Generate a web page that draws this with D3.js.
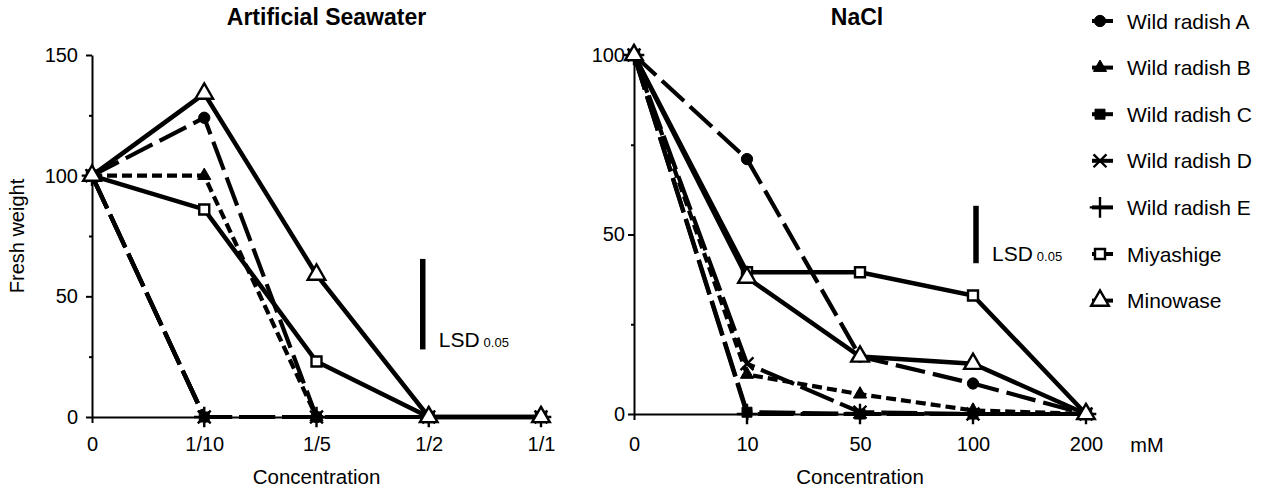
<!DOCTYPE html>
<html>
<head>
<meta charset="utf-8">
<script src="https://cdn.jsdelivr.net/npm/d3@7"></script>
<style>
  html, body { margin: 0; padding: 0; background: #fff; }
  svg { display: block; font-family: "Liberation Sans", Arial, sans-serif; }
</style>
</head>
<body>
<svg id="chart" width="1264" height="491"></svg>
<script>
// Relative fresh weight (%) of radish lines under salt stress
const seawaterLevels = ["0", "1/10", "1/5", "1/2", "1/1"];
const naclLevels = ["0", "10", "50", "100", "200"];

const seriesNames = ["Wild radish A", "Wild radish B", "Wild radish C", "Wild radish D",
                     "Wild radish E", "Miyashige", "Minowase"];

const seawaterA = [100, 124, 0, 0, 0];
const seawaterB = [100, 100, 0, 0, 0];
const seawaterC = [100, 0, 0, 0, 0];
const seawaterD = [100, 0, 0, 0, 0];
const seawaterE = [100, 0, 0, 0, 0];
const seawaterMiyashige = [100, 86, 23, 0, 0];
const seawaterMinowase = [100, 134, 59, 0, 0];

const naclA = [100, 71, 16, 8.5, 0];
const naclB = [100, 11, 5.5, 1, 0];
const naclC = [100, 0.5, 0, 0, 0];
const naclD = [100, 14, 0.5, 0, 0];
const naclE = [100, 0, 0, 0, 0];
const naclMiyashige = [100, 39.5, 39.5, 33, 0];
const naclMinowase = [100, 38, 16, 14, 0];

const seawaterTicks = [0, 50, 100, 150];
const seawaterMinor = [25, 75, 125];
const naclTicks = [0, 50, 100];
const naclMinor = [25, 75];

// LSD (P = 0.05) bars: [lower end, length]
const seawaterLSD = [28, 37.5];
const naclLSD = [42, 16];

// Line and marker styles per series
const styles = [
  { dash: "30,8",  symbol: d3.symbolCircle,   size: 100, fill: "#000", sw: 4.2 },
  { dash: "10,5",  symbol: d3.symbolTriangle, size: 75,  fill: "#000", sw: 4.2 },
  { dash: "36,7",  symbol: d3.symbolSquare,   size: 100, fill: "#000", sw: 4.2 },
  { dash: "36,7",  symbol: d3.symbolTimes,    size: 110, fill: "none", sw: 4.2 },
  { dash: "36,7",  symbol: d3.symbolPlus,     size: 140, fill: "none", sw: 4.2 },
  { dash: null,    symbol: d3.symbolSquare,   size: 100, fill: "#fff", sw: 4.5 },
  { dash: null,    symbol: d3.symbolTriangle, size: 135, fill: "#fff", sw: 4.5 }
];

const svg = d3.select("#chart");

function panel(opts) {
  const x = d3.scalePoint().domain(opts.cats).range(opts.xRange);
  const y = d3.scaleLinear().domain(opts.yDomain).range(opts.yRange);
  const g = svg.append("g");

  // y axis, major and minor ticks
  g.append("g").attr("transform", `translate(${opts.xRange[0]},0)`)
    .call(d3.axisLeft(y).tickValues(opts.ticks).tickSize(6).tickSizeOuter(0)
      .tickPadding(opts.yPad).tickFormat(d3.format("d")));
  g.append("g").attr("transform", `translate(${opts.xRange[0]},0)`)
    .call(d3.axisLeft(y).tickValues(opts.minor).tickSize(3).tickSizeOuter(0).tickFormat(""))
    .select(".domain").remove();

  // x axis
  g.append("g").attr("transform", `translate(0,${opts.yRange[0]})`)
    .call(d3.axisBottom(x).tickSize(6).tickSizeOuter(0).tickPadding(opts.xPad));

  g.selectAll(".domain, .tick line").attr("stroke", "#000").attr("stroke-width", 2);
  g.selectAll(".tick text").attr("font-size", 20).attr("fill", "#000")
    .attr("font-family", "Liberation Sans, Arial, sans-serif");

  // series lines and markers
  const line = d3.line().x((d, i) => x(opts.cats[i])).y(d => y(d));
  opts.series.forEach((vals, k) => {
    const st = styles[k];
    g.append("path").datum(vals)
      .attr("d", line)
      .attr("fill", "none")
      .attr("stroke", "#000")
      .attr("stroke-width", st.sw)
      .attr("stroke-dasharray", st.dash)
      .attr("stroke-linejoin", "miter");
    g.selectAll(null).data(vals).enter().append("path")
      .attr("transform", (d, i) => `translate(${x(opts.cats[i])},${y(d)})`)
      .attr("d", d3.symbol().type(st.symbol).size(st.size))
      .attr("fill", st.fill)
      .attr("stroke", "#000")
      .attr("stroke-width", st.fill === "#000" ? 1 : 2.4);
  });

  // LSD bar
  const lx = x(opts.lsdAt) + opts.lsdShift;
  g.append("line")
    .attr("x1", lx).attr("x2", lx)
    .attr("y1", y(opts.lsd[0])).attr("y2", y(opts.lsd[0] + opts.lsd[1]))
    .attr("stroke", "#000").attr("stroke-width", 5.5);
  const lt = g.append("text")
    .attr("x", lx + 16).attr("y", y(opts.lsd[0]) - 2)
    .attr("font-size", 21).attr("fill", "#000");
  lt.append("tspan").text("LSD");
  lt.append("tspan").attr("font-size", 13).attr("dx", 4).text("0.05");

  // titles
  const cx = (opts.xRange[0] + opts.xRange[1]) / 2;
  g.append("text").attr("x", cx + opts.titleShift).attr("y", 25)
    .attr("text-anchor", "middle").attr("font-size", 23).attr("font-weight", "bold")
    .text(opts.title);
  g.append("text").attr("x", cx).attr("y", 484)
    .attr("text-anchor", "middle").attr("font-size", 20.5).text("Concentration");

  return { x, y, g };
}

panel({
  cats: seawaterLevels, xRange: [92, 541], yDomain: [0, 150], yRange: [417, 55],
  ticks: seawaterTicks, minor: seawaterMinor, yPad: 8, xPad: 14,
  series: [seawaterA, seawaterB, seawaterC, seawaterD, seawaterE, seawaterMiyashige, seawaterMinowase],
  lsd: seawaterLSD, lsdAt: "1/2", lsdShift: -6,
  title: "Artificial Seawater", titleShift: 10
});

panel({
  cats: naclLevels, xRange: [634, 1086], yDomain: [0, 100], yRange: [414, 55],
  ticks: naclTicks, minor: naclMinor, yPad: 3, xPad: 17,
  series: [naclA, naclB, naclC, naclD, naclE, naclMiyashige, naclMinowase],
  lsd: naclLSD, lsdAt: "100", lsdShift: 3,
  title: "NaCl", titleShift: -3
});

// unit label after the NaCl axis
svg.append("text").attr("x", 1147).attr("y", 452).attr("text-anchor", "middle")
  .attr("font-size", 20).text("mM");

// y axis title
svg.append("text")
  .attr("transform", "translate(24,236) rotate(-90)")
  .attr("text-anchor", "middle").attr("font-size", 20).text("Fresh weight");

// legend
const legend = svg.append("g");
seriesNames.forEach((name, k) => {
  const st = styles[k];
  const cy = 21 + k * 46.6;
  const row = legend.append("g").attr("transform", `translate(1100,${cy})`);
  row.append("line").attr("x1", -8).attr("x2", 13).attr("y1", 0).attr("y2", 0)
    .attr("stroke", "#000").attr("stroke-width", 4);
  row.append("path")
    .attr("d", d3.symbol().type(st.symbol).size(st.size))
    .attr("fill", st.fill).attr("stroke", "#000")
    .attr("stroke-width", st.fill === "#000" ? 1 : 2.4);
  row.append("text").attr("x", 27).attr("y", 7.5).attr("font-size", 21).text(name);
});
</script>
</body>
</html>
